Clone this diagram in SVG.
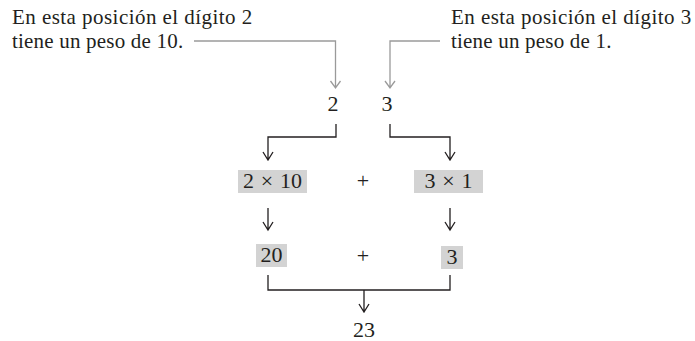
<svg xmlns="http://www.w3.org/2000/svg" width="695" height="341" viewBox="0 0 695 341">
<defs>
<style>
text{font-family:"Liberation Serif","Times New Roman",serif;font-size:21px;fill:#231f20}
.t{letter-spacing:0.45px}
.t2{letter-spacing:0.2px}
.n{font-size:22px}
.m{text-anchor:middle}
.g{stroke:#9a9a9a;stroke-width:1.3;fill:none}
.k{stroke:#231f20;stroke-width:1.3;fill:none}
.box{fill:#d3d3d3}
</style>
</defs>
<g id="label-left"><text class="t" x="12" y="24">En esta posición el dígito 2</text><text class="t2" x="12" y="47.5">tiene un peso de 10.</text></g>
<g id="label-right"><text class="t" x="451" y="24">En esta posición el dígito 3</text><text class="t2" x="451" y="47.5">tiene un peso de 1.</text></g>
<g id="d2"><text class="m n" x="333" y="111">2</text></g>
<g id="d3"><text class="m n" x="387" y="111">3</text></g>
<g id="p1"><rect class="box" x="238" y="170" width="69" height="23"/><text class="m n" x="272.5" y="188" word-spacing="1.3">2 × 10</text></g>
<g id="plus1"><text class="m n" x="363" y="188">+</text></g>
<g id="p2"><rect class="box" x="414" y="170" width="69" height="23"/><text class="m n" x="448.5" y="188" word-spacing="1.3">3 × 1</text></g>
<g id="s1"><rect class="box" x="256" y="244" width="31" height="23"/><text class="m n" x="271.5" y="262">20</text></g>
<g id="plus2"><text class="m n" x="363" y="263">+</text></g>
<g id="s2"><rect class="box" x="441" y="246" width="22" height="23"/><text class="m n" x="452" y="264">3</text></g>
<g id="res"><text class="m n" x="364" y="337">23</text></g>
<g id="connectors">
<path class="g" d="M194,41 H335.5 V88 M330.5,81 L335.5,88 L340.5,81"/>
<path class="g" d="M440,41 H390 V88 M385,81 L390,88 L395,81"/>
<path class="k" d="M336,124 V137 H268 V160 M263,152 L268,160 L273,152"/>
<path class="k" d="M390,124 V137 H450 V160 M445,152 L450,160 L455,152"/>
<path class="k" d="M268,208 V230 M263,222 L268,230 L273,222"/>
<path class="k" d="M450,208 V230 M445,222 L450,230 L455,222"/>
<path class="k" d="M268,275 V290 H450 V275 M364,290 V312 M359,304 L364,312 L369,304"/>
</g>
</svg>
